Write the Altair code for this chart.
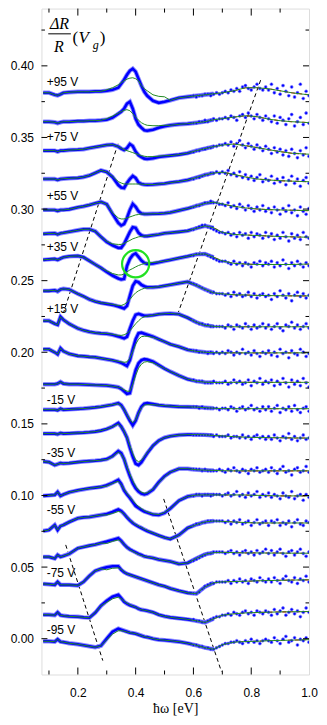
import altair as alt
import pandas as pd

# ---------------- data ----------------
X = [0.08, 0.10, 0.12, 0.13, 0.14, 0.15, 0.17, 0.20, 0.22, 0.24, 0.26, 0.28, 0.30, 0.32,
     0.34, 0.35, 0.36, 0.37, 0.38, 0.39, 0.40, 0.41, 0.42, 0.43, 0.44, 0.46, 0.48, 0.50,
     0.52, 0.55, 0.58, 0.61, 0.64, 0.67, 0.70, 0.74, 0.78, 0.82, 0.86, 0.90, 0.94, 0.98, 1.00]
XG = X[12:28]
XS = [0.60, 0.61, 0.62, 0.63, 0.64, 0.65, 0.66, 0.67, 0.68, 0.69, 0.70, 0.71, 0.72, 0.73,
      0.74, 0.75, 0.76, 0.77, 0.78, 0.79, 0.80, 0.81, 0.82, 0.83, 0.84, 0.85, 0.86, 0.87,
      0.88, 0.89, 0.90, 0.91, 0.92, 0.93, 0.94, 0.95, 0.96, 0.97, 0.98, 0.99, 1.00]

BASE = [0.3812, 0.3610, 0.3408, 0.3210, 0.2994, 0.2827, 0.2645, 0.2429, 0.2220, 0.2021,
        0.1777, 0.1599, 0.1432, 0.1233, 0.0997, 0.0801, 0.0585, 0.0376, 0.0174, -0.0014]

DATA = [
 [0, 0, -1.4, -1.8, -1, 0, 0.4, 0.7, 0.7, 0.7, 1, 1, 1.4, 2.1, 3.5, 6.3, 9.1, 12.6, 15.4, 16.8, 14.7, 9.8, 4.9, 0.7, -2.1, -5.6, -7, -6.3, -5.3, -3.5, -2.8, -2.1, -1.4, -0.7, 0, 1.4, 3.5, 3.5, 2.8, 1.4, 0, -1, -1.4],
 [0, 0, -0.4, -1, -0.4, 0, 0, 0.4, 0.4, 0.7, 0.7, 1, 1.4, 2.8, 5.6, 7, 9.1, 12.6, 14, 9.1, 2.1, -2.1, -4.2, -6, -6.3, -5.6, -4.2, -3.2, -2.5, -1.8, -1.4, -0.7, 0, 1.4, 2.1, 3.2, 4.2, 3.5, 1.8, 0.7, 0, -0.4, -0.7],
 [0, 0, 0, -0.7, 0, 0, 0.4, 0.7, 1, 1.8, 2.5, 3.2, 3.9, 4.2, 2.8, 1.4, 0.4, 1.8, 4.6, 3.2, -0.7, -3.2, -4.6, -5.6, -5.8, -5.3, -4.4, -3.9, -3.5, -2.8, -1.8, 0, 1.4, 2.8, 3.9, 4.6, 3.5, 2.1, 0.7, -0.7, -1.8, -2.3, -2.5],
 [0, 0, 0, -0.7, 0, 0.2, 0.5, 0.8, 1.4, 2.5, 4.2, 6, 4.9, 1.4, -4.2, -6, -6.3, -2.8, 0, 2.1, 0.7, -2.5, -3.5, -3.9, -4, -3.9, -3.5, -3.2, -2.5, -1.8, -0.7, 1, 2.8, 4.2, 4.7, 3.2, 1.4, 0, -0.7, -1.2, -1.5, -1.8, -1.9],
 [0, 0, 0, -0.7, 0, 0, 0.4, 1.8, 2.5, 3.5, 4.6, 5.6, 3.9, -2.8, -9.1, -10.9, -9.8, -5.6, 0, 4.2, 2.1, -1, -2.5, -2.8, -2.8, -2.7, -2.6, -2.3, -1.8, -0.4, 1, 2.8, 4.6, 5.4, 4.2, 2.5, 1.4, 0.7, 0.2, 0, -0.2, -0.4, -0.5],
 [0, 0.2, 0.4, -0.4, 0.4, 0.7, 1.4, 2.5, 3.2, 3.2, 1.8, -2.1, -5.6, -8, -9.8, -9.8, -7, -2.8, 1.4, 4.6, 4.2, 0.7, -1, -1.6, -1.6, -1, -0.4, 0.4, 0.8, 1.4, 2.1, 3.9, 5.6, 4.2, 1, -0.4, -0.8, -1.2, -1.5, -1.9, -2.1, -2.3, -2.3],
 [0, 0.4, 0.7, 0, 1, 1.8, 2.5, 2.8, 1.8, -0.7, -3.2, -5.6, -8.4, -10.9, -13, -13.7, -13.3, -4.2, 0.7, 3.5, 4.6, 2.1, -0.4, -2.1, -2.8, -2.5, -1.7, -0.8, 0, 1.3, 2.5, 3.9, 4.2, 1.8, -0.7, -2.4, -2.9, -3.2, -3.2, -3.2, -3.2, -3, -2.9],
 [0, 0, 0.4, -0.4, 1, 1.4, 1, -2.1, -3.9, -6, -7.4, -8.4, -9.1, -9.8, -10.9, -11.6, -12.3, -10.5, -3.5, 3.5, 6.7, 6, 4.2, 3.2, 2.5, 2.5, 2.8, 3.5, 4.2, 5.3, 6.3, 3.9, 1, -1.4, -2.1, -2.7, -2.9, -3.2, -3.3, -3.4, -3.5, -3.5, -3.5],
 [0, 0, -2.1, -2.8, 2.8, 0.7, -2.1, -5.3, -6.7, -7.7, -8.4, -8.8, -9.1, -9.8, -10.9, -11.6, -12.3, -11.2, -5.6, 0, 4.2, 4.9, 4.2, 3.5, 3.5, 3.9, 4.6, 4.9, 5.1, 4.6, 2.1, -1, -3.2, -3.9, -4.2, -4.2, -4.2, -4.2, -4.2, -4.2, -4.2, -4.2, -4.2],
 [0, 0, -2.1, -3.5, 0.7, -1.4, -3.2, -4.6, -4.9, -5.3, -5.6, -6.3, -7, -7.7, -8.8, -9.5, -10.5, -11.6, -7.7, 0, 7, 11.2, 11.6, 10.9, 10.2, 8.8, 7, 5.3, 3.5, 1.8, -0.4, -1.4, -2.1, -2.4, -2.5, -2.5, -2.5, -2.5, -2.5, -2.5, -2.5, -2.5, -2.5],
 [0, 0, 0, 0.4, 1.6, 0.4, 0, 0, -0.2, -0.4, -0.6, -0.7, -0.9, -1.4, -2.1, -3.2, -4.9, -6.7, -6.3, 2.1, 9.8, 14.7, 16.8, 17.5, 17.2, 15.8, 13.3, 10.9, 8.8, 6, 3.5, 2.1, 1.4, 1.2, 1.2, 1.3, 1.3, 1.3, 1.3, 1.3, 1.3, 1.3, 1.3],
 [0, 0, 0, -0.4, 0.7, 0, 0.2, 0.6, 0.8, 1.2, 1.6, 2.1, 2.8, 3.5, 4.6, 3.2, 0, -3.9, -7.7, -10.9, -7.7, -2.1, 2.1, 4.2, 4.6, 3.9, 3.2, 2.8, 2.5, 2.1, 2, 1.8, 1.4, 1, 0.8, 0.7, 0.7, 0.7, 0.7, 0.7, 0.7, 0.7, 0.7],
 [0, 0, 0, -0.4, 0.4, 0, 0.2, 0.5, 0.7, 1, 1.4, 2.1, 3.2, 4.9, 7.4, 4.9, 1.4, -2.8, -9.8, -16.1, -21, -22, -20, -16.8, -13.7, -8.4, -4.9, -2.8, -1.8, -1, -0.7, -0.7, -0.9, -1.3, -1.6, -2.1, -2.5, -2.7, -2.8, -2.9, -3, -3.1, -3.1],
 [0.4, 0, -2.1, -1.4, -0.7, -1, -0.7, 0, 0.4, 0.7, 1, 1.4, 2.1, 4.2, 7.7, 6.3, 2.1, -4.2, -9.8, -14.7, -18.2, -20.6, -22, -22.6, -22, -19.2, -14, -9.8, -7, -4.6, -4.6, -5.3, -5.6, -5.8, -6, -6.1, -6.1, -6.1, -6.1, -6.1, -6.1, -6.1, -6.1],
 [0, 0.4, 0.7, 2.8, 0, 1, 2.5, 3.9, 4.6, 5.3, 5.8, 6.3, 7.4, 9.1, 11.2, 8.4, 3.9, 1, -1.4, -4.2, -7, -8.4, -9.8, -10.9, -11.6, -13, -13.3, -11.9, -8.8, -3.2, -0.4, 0.6, 0.7, 0.7, 0.7, 0.7, 0.6, 0.4, 0.2, 0, 0, 0, 0],
 [-4.9, -4.2, -0.7, -4.2, -1.4, -0.7, 1.4, 4, 4.6, 4.9, 5.6, 6.3, 7, 8.4, 10.2, 9.1, 7, 4.6, 2.5, 0.7, -0.7, -1.8, -2.8, -3.9, -4.9, -6.5, -8, -9.5, -10.5, -7.7, -2.8, -0.4, 1.4, 2.1, 1.8, 1.4, 1, 0.7, 0.7, 0.7, 0.7, 0.7, 0.7],
 [-1.4, -1.4, -2.5, 0, -1.4, -0.7, 0.7, 4.7, 5.6, 6.5, 7.2, 8.3, 9.3, 10.5, 11.6, 9.8, 7.4, 5.3, 3.9, 2.8, 1.8, 0.7, 0, -1, -1.4, -2.1, -3.2, -3.9, -4.6, -6.3, -5.6, -2.5, 0.4, 1.6, 1.8, 1.6, 1.4, 1.4, 1.3, 1.3, 1.2, 1.2, 1.2],
 [0.7, 0.4, 0, 2.1, 0, 0, 0, -0.4, 2.1, 6.3, 9.8, 11.2, 12.3, 13, 13, 10.5, 8.8, 7.7, 7, 6.3, 5.6, 4.9, 4.2, 3.5, 2.8, 1.4, 0, -1, -2.5, -4.2, -5.6, -6.2, -1.4, 1.4, 2.1, 2.3, 2.5, 2.8, 3, 3.2, 3.3, 3.5, 3.5],
 [-0.7, -0.7, -1, 1, -1, -1.4, -1.8, -2.1, -2.5, -2.8, 0.7, 5.6, 9.1, 11.9, 13.3, 10.9, 8.4, 7, 6, 5.3, 4.6, 3.5, 2.8, 2.5, 2.1, 1, -0.7, -1.8, -2.5, -3.2, -3.9, -4.9, -6.1, -3.5, -1, 0, 0.6, 0.9, 1.1, 1.3, 1.4, 1.5, 1.6],
 [-0.4, -0.4, -0.7, 1, -0.7, -1, -1.8, -2.5, -3.2, -3.9, -4.6, -3.5, 1.4, 6.3, 8.4, 7.7, 7, 6.3, 5.6, 5.3, 4.9, 4.2, 3.5, 2.8, 2.5, 1.4, 0.7, 0.4, 0, -0.7, -1.8, -3.2, -4.9, -6, -2.8, -1, -0.6, -0.4, 0, 0.2, 0.4, 0.6, 0.7],
]

GREEN = [
 [2.1, 3.5, 5.6, 7, 8.4, 9.5, 10.2, 10.5, 9.8, 8.4, 4.9, 2.8, 1.4, -1.4, -2.5, -2.8],
 [2.1, 3.9, 6, 7, 8, 8.4, 7.7, 5.6, 3.2, 1, -0.7, -1.8, -2.5, -2.8, -2.8, -2.5],
 [3.9, 4.2, 2.8, 1.8, 0.7, 0, -0.7, -1.4, -2.1, -2.8, -3.5, -3.9, -4.2, -4.2, -3.9, -3.5],
 [4.9, 1.8, -1.8, -2.8, -3.5, -3.5, -3.5, -3.5, -3.5, -3.5, -3.6, -3.8, -3.9, -3.9, -3.5, -3.2],
 [3.9, -2.1, -5.6, -6.3, -6.3, -5.6, -4.9, -4.2, -3.5, -3.2, -2.8, -2.8, -2.8, -2.7, -2.6, -2.3],
 [-5.3, -7, -7.4, -7.4, -6.7, -5.6, -4.6, -3.5, -2.8, -2.1, -1.8, -1.6, -1.4, -1, -0.4, 0.4],
 [-7.7, -9.5, -10.5, -10.5, -9.8, -8.4, -7, -6, -4.9, -3.9, -3.2, -2.5, -2.1, -1.8, -1.4, -0.8],
 [-8.8, -9.5, -10.2, -10.2, -9.5, -8, -6, -3.5, -1.4, 0, 1, 1.8, 2.1, 2.5, 2.8, 3.5],
 [-8.8, -9.5, -10.2, -10.2, -9.8, -8.8, -7, -4.6, -2.1, 0, 1.8, 2.8, 3.2, 3.9, 4.6, 4.9],
 [-7, -7.7, -8.4, -8.8, -9.1, -8.8, -6.3, -1.4, 3.5, 7, 8.8, 9.1, 9.1, 8.4, 7, 5.3],
 [-0.9, -1.4, -2.1, -2.8, -3.9, -4.9, -4.9, 0, 6.3, 11.2, 14, 15.4, 15.8, 15, 13, 10.9],
 [2.8, 3.5, 4.2, 2.8, 0, -3.5, -7, -9.1, -7, -2.5, 1.4, 3.2, 3.5, 3.5, 3.2, 2.8],
 [3.2, 4.9, 6.7, 4.9, 1.8, -2.8, -8.4, -14, -18.2, -19.6, -18.6, -16.1, -13.3, -8.4, -4.9, -2.8],
 [1.8, 3.9, 7, 5.6, 2.1, -3.5, -8.4, -13, -16.8, -19.6, -21, -21.7, -21.4, -18.9, -14.4, -10.2],
 [7, 8.8, 10.2, 8, 4.6, 1.8, -0.7, -3.2, -5.6, -7.4, -8.8, -10.2, -11.2, -12.6, -13, -11.6],
 [6.3, 7.4, 8.8, 8.4, 7, 4.9, 2.8, 1, -0.4, -1.4, -2.5, -3.5, -4.6, -6.3, -8, -9.5],
 [8, 9.5, 10.5, 9.5, 7.4, 5.3, 3.5, 2.5, 1.4, 0.4, -0.4, -1, -1.4, -2.1, -3.2, -3.9],
 [10.5, 11.6, 11.9, 10.9, 9.1, 7.7, 7, 6.3, 5.6, 4.9, 4.2, 3.5, 2.8, 1.4, 0, -1],
 [8, 10.5, 11.6, 10.5, 8.8, 7.4, 6.3, 5.3, 4.6, 3.5, 2.8, 2.5, 2.1, 1, -0.7, -1.8],
 [0.7, 4.6, 7, 7, 6.7, 6.1, 5.6, 5.3, 4.9, 4.2, 3.5, 2.8, 2.5, 1.4, 0.7, 0.4],
]

SCAT = [
 "-2 -3 -2 -2 -1 -1 -2 -1 0 -1 0  1 0 2 1 3 1 4 5 3 2 4 6 3 2 4  2 6 0 3 -1 5 1 -2 4 -3 0 6 -4 1 -2",
 "-1 -1 0 0 1 0 1 2 1 2 2  3 2 4 3 1 4 5 3 6 4 2 5 3 1 4  2 0 4 -1 3 1 -2 2 5 -3 0 3 -2 6 -1",
 "-1 0 0 1 1 2 2 3 3 4 4  5 4 6 3 5 7 4 2 5 3 1 4 2 0 3  1 -2 2 -1 1 -3 0 -4 1 -2 -5 0 -3 2 -4",
 "0 1 1 2 3 3 4 4 5 4 5  4 6 3 4 2 5 1 3 0 2 -1 1 3 -2 0  -1 2 -3 0 -2 1 -4 -1 2 -3 0 -5 -1 1 -3",
 "2 3 3 4 5 5 6 5 5 4 4  3 5 2 3 1 4 2 0 3 1 -1 2 0 3 -1  1 -2 2 0 -3 1 -1 3 -2 0 -4 2 -1 -3 1",
 "3 4 5 6 6 5 4 3 2 1 1  0 1 -1 0 -2 1 -1 0 -3 1 -2 0 -1 -3 1  -2 0 -4 -1 -3 1 -2 -5 0 -3 -1 -4 1 -2 -3",
 "3 4 4 4 4 3 2 1 0 -1 -1  -1 -2 -3 -1 -3 -2 -4 -2 -3 -5 -2 -3 -1 -4 -2  -3 -1 -5 -2 -4 0 -3 -6 -2 -4 -1 -3 -5 -2 -4",
 "5 4 3 2 1 0 -1 -1 -2 -2 -2  -3 -2 -4 -1 -3 -2 -4 -3 -1 -4 -2 -5 -3 -2 -4  -3 -6 -2 -4 0 -3 -5 -2 -7 -3 -1 -4 -2 -5 -3",
 "0 -1 -2 -2 -3 -3 -4 -4 -4 -4 -4  -5 -3 -4 -6 -3 -4 -5 -2 -4 -6 -3 -5 -4 -2 -5  -3 -6 -4 -2 -5 -7 -3 -4 -1 -5 -3 -6 -4 -2 -5",
 "-1 -1 -2 -2 -2 -3 -2 -3 -2 -3 -2  -3 -1 -2 -4 -2 -3 0 -3 -2 -4 -1 -3 -5 -2 -3  -1 -4 -2 -5 0 -3 -2 -6 -1 -3 -4 0 -2 -5 -3",
 "3 2 2 2 1 1 1 2 1 1 1  2 0 1 3 1 2 0 1 3 -1 2 1 4 0 2  1 3 -1 2 0 4 1 -2 3 0 2 -1 4 1 -2",
 "2 2 1 2 1 1 1 1 1 0 1  1 0 2 1 -1 1 2 0 1 3 0 1 -1 2 0  2 -1 1 3 -2 1 0 2 -1 3 0 -2 1 2 -1",
 "-1 -1 -1 -1 -1 -1 -1 -2 -1 -2 -2  -2 -1 -3 -2 -2 -3 -1 -3 -2 -4 -2 -1 -3 -2 -4  -2 -4 -1 -3 -5 -2 -3 0 -4 -2 -5 -3 -1 -4 -3",
 "-5 -5 -5 -6 -5 -6 -6 -6 -6 -5 -6  -7 -5 -6 -4 -6 -7 -5 -6 -8 -5 -6 -4 -7 -6 -5  -7 -4 -6 -8 -5 -3 -7 -6 -9 -5 -4 -7 -6 -3 -7",
 "0 1 1 0 1 1 0 1 1 1 0  1 2 0 1 3 0 1 -1 2 0 1 3 -1 1 0  2 -1 1 0 -2 2 0 -1 3 -2 0 1 -3 1 -1",
 "-1 0 0 1 1 2 2 2 2 2 2  1 2 0 2 1 3 0 1 2 -1 1 3 0 1 2  -1 2 1 3 -1 1 0 2 -2 1 3 0 -1 2 1",
 "-4 -3 -2 -1 0 1 1 2 2 2 2  1 2 3 1 2 0 2 3 1 2 0 3 1 2 4  1 3 0 2 4 1 -1 2 3 0 2 4 1 -1 2",
 "-6 -6 -5 -3 -1 0 1 1 2 2 2  2 3 1 3 2 4 2 3 1 4 3 2 5 3 2  4 2 5 3 1 4 6 3 2 5 1 4 3 6 2",
 "-4 -5 -5 -6 -6 -5 -4 -3 -2 -2 -1  -1 0 -1 1 0 -1 1 2 0 1 -1 2 1 0 2  1 -1 3 0 2 4 -1 1 3 0 2 -2 1 4 1",
 "-3 -3 -4 -4 -5 -5 -6 -6 -5 -4 -3  -2 -2 -1 -1 0 -1 -2 0 -1 1 -1 0 -2 0 1  0 -1 2 0 -2 1 3 -1 0 2 -3 1 0 2 -1",
]

LABELS = ["+95 V", "+75 V", "+55 V", "+35 V", "+15 V", "-15 V", "-35 V", "-55 V", "-75 V", "-95 V"]
LABEL_Y = [0.389, 0.3505, 0.3094, 0.2734, 0.2305, 0.1666, 0.1294, 0.0899, 0.0460, 0.0058]
LABEL_X = 0.092

GUIDE_X1 = [0.339, 0.8325, 0.158, 0.497]
GUIDE_Y1 = [0.3456, 0.390, 0.0655, 0.0976]
GUIDE_X2 = [0.151, 0.548, 0.2863, 0.697]
GUIDE_Y2 = [0.228, 0.228, -0.0153, -0.023]

CIRCLE_X = [0.400]
CIRCLE_Y = [0.2618]

X_MAJOR = [0.2, 0.4, 0.6, 0.8, 1.0]
X_MINOR = [0.1, 0.3, 0.5, 0.7, 0.9]
Y_MAJOR = [0.00, 0.05, 0.10, 0.15, 0.20, 0.25, 0.30, 0.35, 0.40]
Y_MINOR = [0.025, 0.075, 0.125, 0.175, 0.225, 0.275, 0.325, 0.375, 0.425]

# ---------------- tables ----------------
rows = []
for i, (b, d, g) in enumerate(zip(BASE, DATA, GREEN)):
    gmap = dict(zip(XG, g))
    for x, v in zip(X, d):
        rows.append({"c": i, "x": x, "y": b + v / 1000.0, "g": b + gmap.get(x, v) / 1000.0})
fit = pd.DataFrame(rows)

srows = []
for i, (b, s) in enumerate(zip(BASE, SCAT)):
    for x, v in zip(XS, s.split()):
        srows.append({"c": i, "x": x, "y": b + int(v) / 1000.0})
scat = pd.DataFrame(srows)

guides = pd.DataFrame({"x": GUIDE_X1, "y": GUIDE_Y1, "x2": GUIDE_X2, "y2": GUIDE_Y2})
labels = pd.DataFrame({"t": LABELS, "y": LABEL_Y, "x": [LABEL_X] * len(LABELS)})
circ = pd.DataFrame({"x": CIRCLE_X, "y": CIRCLE_Y})

# ---------------- chart ----------------
W, H = 268, 667
xs = alt.Scale(domain=[0.074, 1.0], nice=False, zero=False)
ys = alt.Scale(domain=[-0.025, 0.44], nice=False, zero=False)

xaxis = alt.Axis(values=X_MAJOR, format=".1f", ticks=False, domain=False, grid=False,
                 labelFont="Liberation Sans", labelFontSize=12, labelColor="black",
                 labelPadding=13, labelFlush=False, labelOverlap=False,
                 title="ħω [eV]", titleFont="Liberation Serif", titleFontSize=14,
                 titleFontWeight="normal", titleColor="black", titlePadding=3)
yaxis = alt.Axis(values=Y_MAJOR, format=".2f", ticks=False, domain=False, grid=False,
                 labelFont="Liberation Sans", labelFontSize=12, labelColor="black",
                 labelPadding=8, labelFlush=False, labelOverlap=False, title=None)

def EX(field="x"):
    return alt.X(f"{field}:Q", scale=xs, axis=xaxis, title="ħω [eV]")

def EY(field="y"):
    return alt.Y(f"{field}:Q", scale=ys, axis=yaxis, title=None)

near = "datum.x <= 0.675"

guide_layer = alt.Chart(guides).mark_rule(color="black", strokeWidth=1, strokeDash=[4, 3]).encode(
    x=EX(), y=EY(), x2="x2:Q", y2="y2:Q")

halo = alt.Chart(fit).transform_filter(near).mark_line(
    color="#8f8fff", strokeWidth=4.4, clip=True).encode(x=EX(), y=EY(), detail="c:N")
red = alt.Chart(fit).mark_line(color="#ff0000", strokeWidth=1.1, strokeDash=[4, 3], clip=True).encode(
    x=EX(), y=EY(), detail="c:N")
blue = alt.Chart(fit).transform_filter(near).mark_line(
    color="#0000ff", strokeWidth=2.6, clip=True).encode(x=EX(), y=EY(), detail="c:N")
dots = alt.Chart(scat).mark_circle(color="#0000ff", size=9, opacity=1,
                                   stroke="#8080ff", strokeWidth=0.6, clip=True).encode(x=EX(), y=EY())
green = alt.Chart(fit).mark_line(color="#228b22", strokeWidth=1.0, clip=True).encode(
    x=EX(), y=EY("g"), detail="c:N")

circle = alt.Chart(circ).mark_point(shape="circle", size=740, filled=False, color="#22e022",
                                    strokeWidth=2.2, opacity=1).encode(x=EX(), y=EY())

vlabels = alt.Chart(labels).mark_text(align="left", baseline="middle", font="Liberation Sans",
                                      fontSize=12, color="black").encode(x=EX(), y=EY(), text="t:N")

def tick_x(vals, y0, y1):
    return alt.Chart(pd.DataFrame({"x": vals})).mark_rule(color="black", strokeWidth=1).encode(
        x=EX(), y=alt.value(y0), y2=alt.value(y1))

def tick_y(vals, x0, x1):
    return alt.Chart(pd.DataFrame({"y": vals})).mark_rule(color="black", strokeWidth=1).encode(
        y=EY(), x=alt.value(x0), x2=alt.value(x1))

XM = X_MAJOR[:-1]
ticks = [tick_x(XM, H, H - 7), tick_x(X_MINOR, H, H - 4), tick_x(XM, 0, 7), tick_x(X_MINOR, 0, 4),
         tick_y(Y_MAJOR, 0, 6), tick_y(Y_MINOR, 0, 3.5), tick_y(Y_MAJOR, W, W - 6),
         tick_y(Y_MINOR, W, W - 3.5)]

def txt(t, px, py, size, style="italic"):
    return alt.Chart(pd.DataFrame({"t": [t]})).mark_text(
        font="Liberation Serif", fontSize=size, fontStyle=style, align="left",
        baseline="middle", color="black").encode(text="t:N", x=alt.value(px), y=alt.value(py))

frac_bar = alt.Chart(pd.DataFrame({"a": [0]})).mark_rule(color="black", strokeWidth=1).encode(
    x=alt.value(6.8), x2=alt.value(29.5), y=alt.value(25.3))
title_parts = [txt("ΔR", 8.5, 15, 16), frac_bar, txt("R", 12.5, 38.5, 16),
               txt("(", 31.2, 29, 17, "normal"), txt("V", 37.0, 29, 17),
               txt("g", 51.5, 36, 12), txt(")", 58.5, 29, 17, "normal")]

chart = alt.layer(guide_layer, halo, red, blue, dots, green, circle, vlabels, *ticks, *title_parts).properties(
    width=W, height=H,
    padding={"left": 33.5, "top": 0, "right": 10, "bottom": 42},
    autosize=alt.AutoSizeParams(type="none"),
).configure_view(stroke="black", strokeWidth=1).configure(background="white")

chart.save("out.html", embed_options={"renderer": "svg", "actions": False})
